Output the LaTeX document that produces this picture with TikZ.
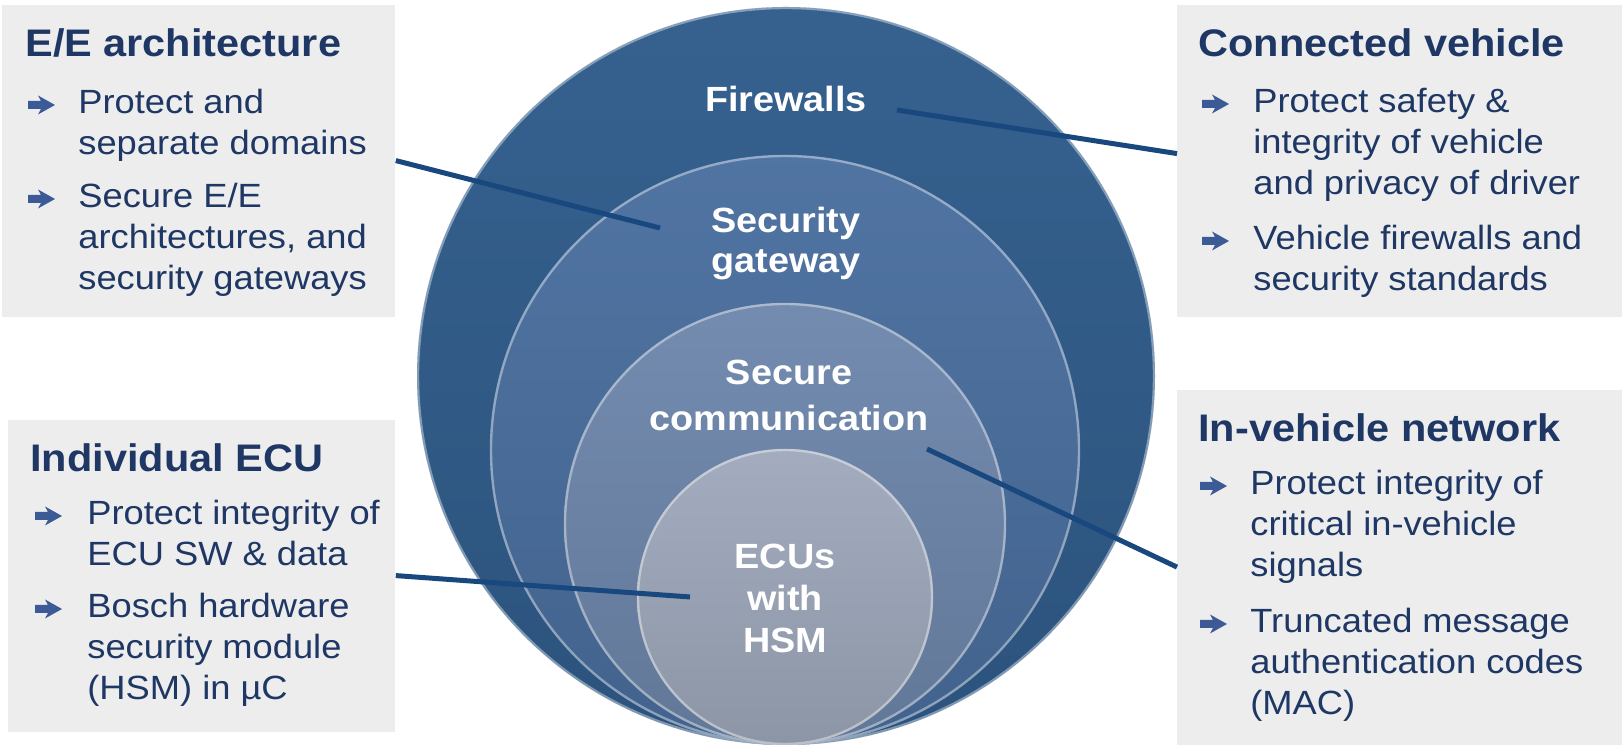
\documentclass[tikz,border=0pt]{standalone}
\usepackage{fontspec}
\setmainfont{Liberation Sans}[FakeStretch=1.08]
\usetikzlibrary{calc}

\definecolor{boxgray}{RGB}{237,237,237}
\definecolor{navy}{RGB}{30,55,100}
\definecolor{arrowblue}{RGB}{60,90,150}
\definecolor{linkblue}{RGB}{24,72,126}
\definecolor{fwblue}{RGB}{48,92,139}
\definecolor{gwblue}{RGB}{75,112,160}
\definecolor{comblue}{RGB}{111,136,173}
\definecolor{ecugray}{RGB}{160,170,189}

\begin{document}
\begin{tikzpicture}[x=0.5pt,y=0.5pt,
  box/.style={fill=boxgray,inner sep=0pt,anchor=south west,minimum height=156pt},
  head/.style={anchor=base west,inner sep=0pt,text=navy,font=\fontsize{19.2}{22}\selectfont\bfseries},
  body/.style={anchor=base west,inner sep=0pt,text=navy,align=left,font=\fontsize{16.8}{20.5}\selectfont},
  bularrow/.pic={\fill[arrowblue] (0,4) -- (13,4) -- (10,9.5) -- (27,0)
      -- (10,-9.5) -- (13,-4) -- (0,-4) -- cycle;},
  rim/.style={draw=white,draw opacity=.4,line width=1.2pt},
  lbl/.style={anchor=base,inner sep=0pt,text=white,align=center,font=\fontsize{17.5}{20}\selectfont\bfseries},
  link/.style={draw=linkblue,line width=2.5pt}]
  \useasboundingbox (0,0) rectangle (1622,747);

  % grey text boxes
  \node[box,minimum width=196.5pt] (eebox) at (2,430) {};
  \node[box,minimum width=222.5pt] (cvbox) at (1177,430) {};
  \node[box,minimum width=193.5pt] (ecubox) at (8,15) {};
  \node[box,minimum width=222.5pt,minimum height=177.5pt] (ivnbox) at (1177,2) {};

  % nested circles, all touching at the bottom
  \shade[top color=fwblue!97!white,bottom color=fwblue!90!black] (786,371) circle (369);
  \draw[rim] (786,371) circle (368);
  \shade[top color=gwblue!97!white,bottom color=gwblue!88!black] (785,297) circle (295);
  \draw[rim] (785,297) circle (294);
  \shade[top color=comblue!97!white,bottom color=comblue!88!black] (785,223) circle (221);
  \draw[rim] (785,223) circle (220);
  \shade[top color=ecugray!97!white,bottom color=ecugray!88!black] (785,150) circle (148);
  \draw[rim] (785,150) circle (147);

  % circle labels (base = last line)
  \node[lbl] (fw) at (786,635) {Firewalls};
  \node[lbl] (gw) at (786,474) {Security\\gateway};
  \node[lbl,font=\fontsize{17.5}{23}\selectfont\bfseries] (com) at (789,316) {Secure\\communication};
  \node[lbl,font=\fontsize{17.5}{21}\selectfont\bfseries] (ecu) at (785,94) {ECUs\\with\\HSM};

  % connectors
  \coordinate (gwtip) at (660,519);
  \coordinate (fwtip) at (897,637);
  \coordinate (comtip) at (927,298);
  \coordinate (ecutip) at (690,150);
  \draw[link] (eebox.east) -- (gwtip);
  \draw[link] (fwtip) -- ([yshift=3.5pt]cvbox.west);
  \draw[link] (ecubox.east) -- (ecutip);
  \draw[link] (comtip) -- (ivnbox.west);

  % E/E architecture
  \node[head] (eehead) at (25,690) {E/E architecture};
  \pic (eeb1) at (28,642) {bularrow};
  \node[body] (eet1) at (78,592) {Protect and\\separate domains};
  \pic (eeb2) at (28,548) {bularrow};
  \node[body] (eet2) at (78,457) {Secure E/E\\architectures, and\\security gateways};

  % Connected vehicle
  \node[head] (cvhead) at (1198,690) {Connected vehicle};
  \pic (cvb1) at (1202,643) {bularrow};
  \node[body] (cvt1) at (1253,552) {Protect safety \&\\integrity of vehicle\\and privacy of driver};
  \pic (cvb2) at (1202,506) {bularrow};
  \node[body] (cvt2) at (1253,456) {Vehicle firewalls and\\security standards};

  % Individual ECU
  \node[head] (ecuhead) at (30,275) {Individual ECU};
  \pic (ecub1) at (35,231) {bularrow};
  \node[body] (ecut1) at (87,181) {Protect integrity of\\ECU SW \& data};
  \pic (ecub2) at (35,138) {bularrow};
  \node[body] (ecut2) at (87,47) {Bosch hardware\\security module\\(HSM) in µC};

  % In-vehicle network
  \node[head] (ivnhead) at (1198,305) {In-vehicle network};
  \pic (ivnb1) at (1200,261) {bularrow};
  \node[body] (ivnt1) at (1250,170) {Protect integrity of\\critical in-vehicle\\signals};
  \pic (ivnb2) at (1200,123) {bularrow};
  \node[body] (ivnt2) at (1250,32) {Truncated message\\authentication codes\\(MAC)};
\end{tikzpicture}
\end{document}
